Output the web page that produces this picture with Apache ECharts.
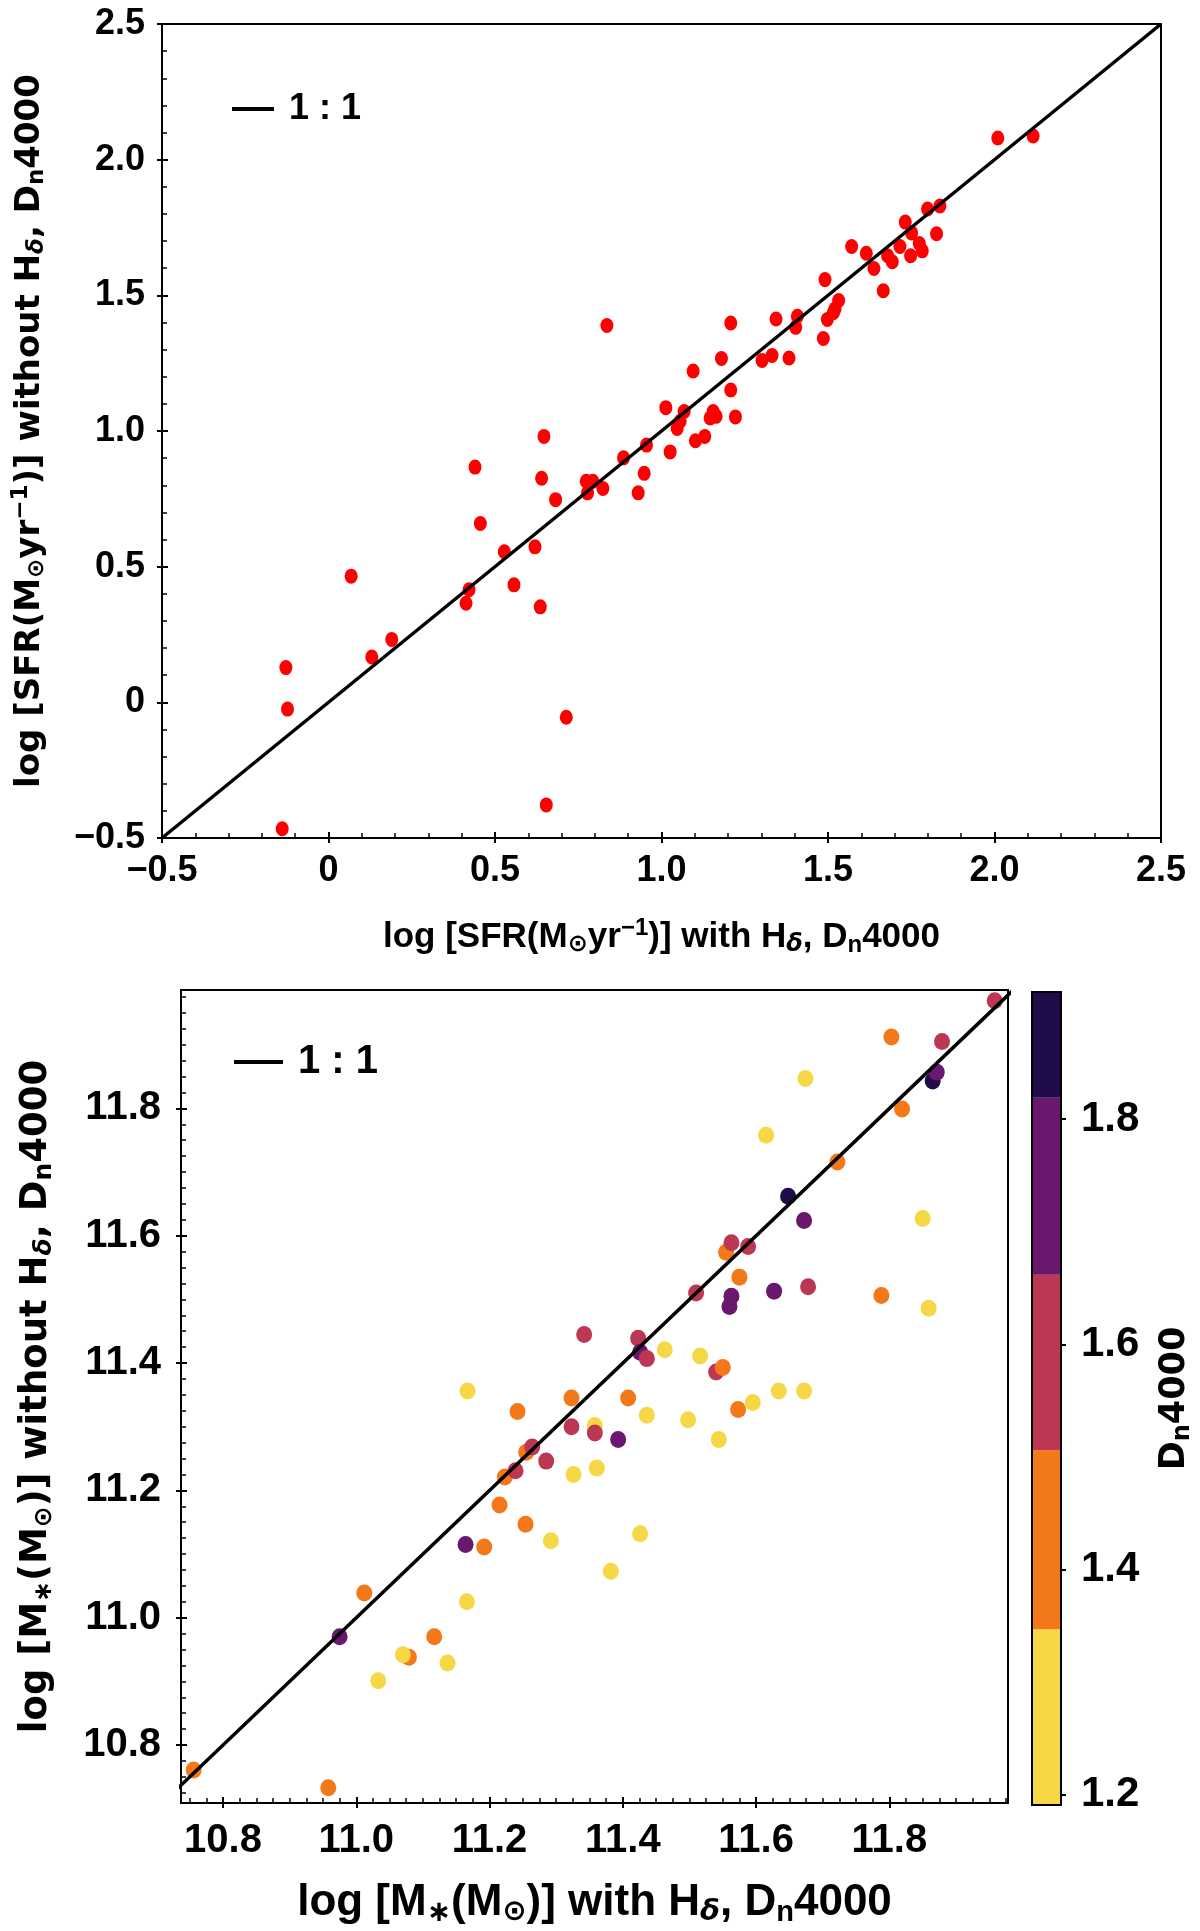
<!DOCTYPE html>
<html>
<head>
<meta charset="utf-8">
<title>SFR and stellar mass with / without Hδ, Dn4000</title>
<script src="https://cdn.jsdelivr.net/npm/echarts@6/dist/echarts.min.js"></script>
<style>
  html, body { margin: 0; padding: 0; background: #fff; }
  #chart { width: 1200px; height: 1931px; }
</style>
</head>
<body>
<div id="chart"></div>
<script>
// top panel: log SFR with vs without the Hdelta / Dn4000 constraints
const sfrWith = [-0.139, -0.128, -0.123, 0.068, 0.130, 0.190, 0.413, 0.422, 0.440, 0.456,
  0.528, 0.557, 0.620, 0.636, 0.640, 0.647, 0.654, 0.682, 0.714, 0.774,
  0.778, 0.794, 0.824, 0.836, 0.886, 0.930, 0.948, 0.955, 1.013, 1.026,
  1.047, 1.056, 1.068, 1.095, 1.102, 1.130, 1.146, 1.155, 1.164, 1.180,
  1.208, 1.208, 1.222, 1.302, 1.332, 1.344, 1.383, 1.403, 1.408, 1.486,
  1.491, 1.498, 1.516, 1.521, 1.532, 1.571, 1.615, 1.638, 1.666, 1.679,
  1.693, 1.716, 1.732, 1.748, 1.751, 1.774, 1.783, 1.799, 1.826, 1.836,
  2.010, 2.116];
const sfrWithout = [-0.466, 0.128, -0.025, 0.465, 0.167, 0.232, 0.365, 0.415, 0.867, 0.659,
  0.555, 0.433, 0.573, 0.352, 0.826, 0.980, -0.378, 0.747, -0.055, 0.815,
  0.772, 0.815, 0.788, 1.389, 0.901, 0.772, 0.844, 0.948, 1.086, 0.923,
  1.009, 1.036, 1.072, 1.221, 0.964, 0.980, 1.048, 1.072, 1.054, 1.267,
  1.151, 1.398, 1.052, 1.260, 1.278, 1.413, 1.269, 1.382, 1.423, 1.341,
  1.558, 1.411, 1.436, 1.450, 1.481, 1.680, 1.655, 1.599, 1.517, 1.646,
  1.624, 1.680, 1.770, 1.646, 1.730, 1.691, 1.664, 1.818, 1.727, 1.829,
  2.080, 2.087];

// bottom panel: log stellar mass, coloured by Dn4000
const massWith = [10.756, 10.958, 10.975, 11.012, 11.033, 11.079, 11.070, 11.117, 11.137, 11.166,
  11.164, 11.167, 11.192, 11.215, 11.223, 11.239, 11.242, 11.254, 11.255, 11.264,
  11.285, 11.292, 11.323, 11.323, 11.326, 11.342, 11.358, 11.358, 11.361, 11.382,
  11.393, 11.408, 11.423, 11.426, 11.426, 11.436, 11.436, 11.463, 11.498, 11.510,
  11.516, 11.540, 11.544, 11.550, 11.555, 11.560, 11.563, 11.563, 11.573, 11.575,
  11.588, 11.595, 11.615, 11.627, 11.634, 11.648, 11.672, 11.672, 11.674, 11.678,
  11.722, 11.788, 11.803, 11.819, 11.850, 11.859, 11.865, 11.871, 11.879, 11.958];
const massWithout = [10.761, 10.733, 10.970, 11.039, 10.901, 10.938, 10.942, 10.970, 10.929, 11.025,
  11.115, 11.356, 11.111, 11.177, 11.221, 11.231, 11.324, 11.147, 11.260, 11.268,
  11.246, 11.121, 11.345, 11.300, 11.225, 11.445, 11.302, 11.290, 11.235, 11.073,
  11.280, 11.345, 11.439, 11.417, 11.132, 11.407, 11.318, 11.421, 11.311, 11.510,
  11.411, 11.386, 11.280, 11.393, 11.574, 11.489, 11.505, 11.589, 11.327, 11.535,
  11.583, 11.338, 11.758, 11.513, 11.356, 11.662, 11.624, 11.356, 11.847, 11.520,
  11.716, 11.506, 11.912, 11.799, 11.627, 11.486, 11.843, 11.857, 11.905, 11.969];
const dn4000 = [1.42, 1.42, 1.74, 1.42, 1.27, 1.42, 1.27, 1.42, 1.27, 1.27,
  1.74, 1.27, 1.42, 1.42, 1.42, 1.58, 1.42, 1.42, 1.42, 1.58,
  1.58, 1.27, 1.42, 1.58, 1.27, 1.58, 1.27, 1.58, 1.27, 1.27,
  1.74, 1.42, 1.58, 1.74, 1.27, 1.58, 1.27, 1.27, 1.27, 1.58,
  1.27, 1.58, 1.27, 1.42, 1.42, 1.74, 1.74, 1.58, 1.42, 1.42,
  1.58, 1.27, 1.27, 1.74, 1.27, 1.91, 1.74, 1.27, 1.27, 1.58,
  1.42, 1.42, 1.42, 1.42, 1.27, 1.27, 1.85, 1.74, 1.58, 1.58];

// colour bar bins (inferno, 5 levels)
const dnEdges = [1.191, 1.347, 1.506, 1.662, 1.819, 1.913];
const dnColors = ['#f6d746', '#f37819', '#bc3754', '#6a176e', '#1f0c48'];

// axis ranges and ticks
const sfrRange = [-0.5, 2.5];
const sfrTicks = [-0.5, 0, 0.5, 1.0, 1.5, 2.0, 2.5];
const massXRange = [10.737, 11.978];
const massYRange = [10.709, 11.986];
const massTicks = [10.8, 11.0, 11.2, 11.4, 11.6, 11.8];
const dnTicks = [1.2, 1.4, 1.6, 1.8];

const SANS = "'Liberation Sans', 'DejaVu Sans', sans-serif";
const WIDE = "'DejaVu Sans', sans-serif";

function minorTicks(lo, hi, step) {
	let out = [];
	let n = Math.round((hi - lo) / step);
	for (let i = 0; i <= n; i++) out.push(+(lo + i * step).toFixed(4));
	return out;
}

function fmtTick(v) {
	if (Math.abs(v) < 1e-9) return '0';
	return (v < 0 ? '\u2212' : '') + Math.abs(v).toFixed(1);
}

function richFor(font, size, sub) {
	return {
		sub: { fontFamily: font, fontWeight: 'bold', fontSize: sub, padding: [Math.round(size * 0.45), 0, 0, 0] },
		subi: { fontFamily: WIDE, fontStyle: 'italic', fontWeight: 'bold', fontSize: sub, padding: [Math.round(size * 0.45), 0, 0, 0] },
		sun: { fontFamily: WIDE, fontWeight: 'bold', fontSize: sub, padding: [Math.round(size * 0.45), 0, 0, 0] },
		sup: { fontFamily: font, fontWeight: 'bold', fontSize: sub, padding: [0, 0, Math.round(size * 0.5), 0] }
	};
}

// stacked axes per side: outer major ticks + labels, inner major ticks, inner minor ticks
function axisSet(grid, pos, range, majors, minors, label, name) {
	let base = {
		type: 'value', gridIndex: grid, position: pos,
		min: range[0], max: range[1],
		splitLine: { show: false },
		axisLine: { show: false, onZero: false },
		axisLabel: { show: false },
		axisTick: { show: false }
	};
	let main = Object.assign({}, base, {
		axisLine: { show: true, onZero: false, lineStyle: { color: '#000', width: 2 } },
		axisTick: { show: true, inside: false, length: 5, customValues: majors, lineStyle: { color: '#000', width: 2 } },
		axisLabel: Object.assign({ show: true, customValues: majors, formatter: fmtTick, color: '#000', fontWeight: 'bold' }, label)
	}, name || {});
	let inner = Object.assign({}, base, {
		axisTick: { show: true, inside: true, length: 6, customValues: majors, lineStyle: { color: '#000', width: 2 } }
	});
	let list = [main, inner];
	if (minors) {
		list.push(Object.assign({}, base, {
			axisTick: { show: true, inside: true, length: 5, customValues: minors, lineStyle: { color: '#000', width: 1.5 } }
		}));
	}
	return list;
}

const topGrid = { left: 162, top: 24, width: 999, height: 814 };
const botGrid = { left: 181, top: 990, width: 827, height: 813 };
const cbGrid = { left: 1032, top: 992, width: 29, height: 813 };

let xAxes = [].concat(
	axisSet(0, 'bottom', sfrRange, sfrTicks, minorTicks(-0.5, 2.5, 0.1),
		{ fontFamily: SANS, fontSize: 36, margin: 15 },
		{
			name: 'log [SFR(M{sun|\u2299}yr{sup|\u22121})] with H{subi|\u03b4}, D{sub|n}4000',
			nameLocation: 'middle', nameGap: 78,
			nameTextStyle: { fontFamily: SANS, fontWeight: 'bold', fontSize: 35, color: '#000', rich: richFor(SANS, 35, 24) }
		}),
	axisSet(1, 'bottom', massXRange, massTicks, minorTicks(10.75, 11.975, 0.025),
		{ fontFamily: SANS, fontSize: 40, margin: 18 },
		{
			name: 'log [M{sub|\u2217}(M{sun|\u2299})] with H{subi|\u03b4}, D{sub|n}4000',
			nameLocation: 'middle', nameGap: 75,
			nameTextStyle: { fontFamily: SANS, fontWeight: 'bold', fontSize: 44, color: '#000', rich: richFor(SANS, 44, 29) }
		}),
	[{ type: 'category', gridIndex: 2, data: ['cb'], show: false }]
);

let yAxes = [].concat(
	axisSet(0, 'left', sfrRange, sfrTicks, minorTicks(-0.5, 2.5, 0.1),
		{ fontFamily: SANS, fontSize: 36, margin: 17 },
		{
			name: 'log [SFR(M{sun|\u2299}yr{sup|\u22121})] without H{subi|\u03b4}, D{sub|n}4000',
			nameLocation: 'middle', nameGap: 112, nameRotate: 90,
			nameTextStyle: { fontFamily: WIDE, fontWeight: 'bold', fontSize: 34, color: '#000', rich: richFor(WIDE, 34, 23) }
		}),
	axisSet(1, 'left', massYRange, massTicks, minorTicks(10.725, 11.975, 0.025),
		{ fontFamily: SANS, fontSize: 40, margin: 20 },
		{
			name: 'log [M{sub|\u2217}(M{sun|\u2299})] without H{subi|\u03b4}, D{sub|n}4000',
			nameLocation: 'middle', nameGap: 124, nameRotate: 90,
			nameTextStyle: { fontFamily: WIDE, fontWeight: 'bold', fontSize: 37, color: '#000', rich: richFor(WIDE, 37, 25) }
		}),
	axisSet(2, 'right', [dnEdges[0], dnEdges[dnEdges.length - 1]], dnTicks, null,
		{ fontFamily: SANS, fontSize: 42, margin: 20 },
		{
			name: 'D{sub|n}4000',
			nameLocation: 'middle', nameGap: 94, nameRotate: 90,
			nameTextStyle: { fontFamily: WIDE, fontWeight: 'bold', fontSize: 35, color: '#000', rich: richFor(WIDE, 35, 24) }
		})
);

let topPoints = sfrWith.map((v, i) => [v, sfrWithout[i]]);
let botPoints = massWith.map((v, i) => [v, massWithout[i], dn4000[i]]);

let series = [
	{
		type: 'scatter', xAxisIndex: 0, yAxisIndex: 0,
		data: topPoints, symbol: 'circle', symbolSize: [13, 15],
		itemStyle: { color: '#ff0000', opacity: 1 }, z: 2, silent: true
	},
	{
		name: 'l1', type: 'line', xAxisIndex: 0, yAxisIndex: 0,
		data: [[sfrRange[0], sfrRange[0]], [sfrRange[1], sfrRange[1]]],
		showSymbol: false, symbol: 'none', clip: true,
		lineStyle: { color: '#000', width: 3.5 }, itemStyle: { color: '#000' }, z: 4, silent: true
	},
	{
		type: 'scatter', xAxisIndex: 3, yAxisIndex: 3,
		data: botPoints, symbol: 'circle', symbolSize: [16, 17],
		itemStyle: { opacity: 1 }, z: 2, silent: true
	},
	{
		name: 'l2', type: 'line', xAxisIndex: 3, yAxisIndex: 3,
		data: [[10.7, 10.7], [12.0, 12.0]],
		showSymbol: false, symbol: 'none', clip: true,
		lineStyle: { color: '#000', width: 3.5 }, itemStyle: { color: '#000' }, z: 4, silent: true
	}
];

// colour bar as stacked bars along the Dn4000 axis
for (let i = 0; i < dnColors.length; i++) {
	series.push({
		type: 'bar', xAxisIndex: 6, yAxisIndex: 6, stack: 'cb',
		data: [i === 0 ? dnEdges[1] : +(dnEdges[i + 1] - dnEdges[i]).toFixed(4)],
		barWidth: '100%', clip: true,
		itemStyle: { color: dnColors[i] }, silent: true, z: 1
	});
}

let chart = echarts.init(document.getElementById('chart'), null, { renderer: 'canvas', width: 1200, height: 1931 });
chart.setOption({
	animation: false,
	backgroundColor: '#fff',
	grid: [
		Object.assign({ show: true, borderColor: '#000', borderWidth: 2, backgroundColor: 'transparent', z: 5 }, topGrid),
		Object.assign({ show: true, borderColor: '#000', borderWidth: 2, backgroundColor: 'transparent', z: 5 }, botGrid),
		Object.assign({ show: true, borderColor: '#000', borderWidth: 2, backgroundColor: 'transparent', z: 5 }, cbGrid)
	],
	xAxis: xAxes,
	yAxis: yAxes,
	visualMap: [{
		type: 'piecewise', show: false, seriesIndex: 2, dimension: 2,
		pieces: dnColors.map((c, i) => ({ gte: dnEdges[i], lt: i === dnColors.length - 1 ? 5 : dnEdges[i + 1], color: c }))
	}],
	legend: [
		{
			data: ['l1'], left: 232, top: 91, padding: 0, icon: 'rect', itemWidth: 42, itemHeight: 4,
			formatter: () => '1 : 1', selectedMode: false,
			textStyle: { fontFamily: SANS, fontWeight: 'bold', fontSize: 36, color: '#000', padding: [0, 0, 0, 10] }
		},
		{
			data: ['l2'], left: 234, top: 1042, padding: 0, icon: 'rect', itemWidth: 49, itemHeight: 4,
			formatter: () => '1 : 1', selectedMode: false,
			textStyle: { fontFamily: SANS, fontWeight: 'bold', fontSize: 40, color: '#000', padding: [0, 0, 0, 10] }
		}
	],
	series: series
});
</script>
</body>
</html>
